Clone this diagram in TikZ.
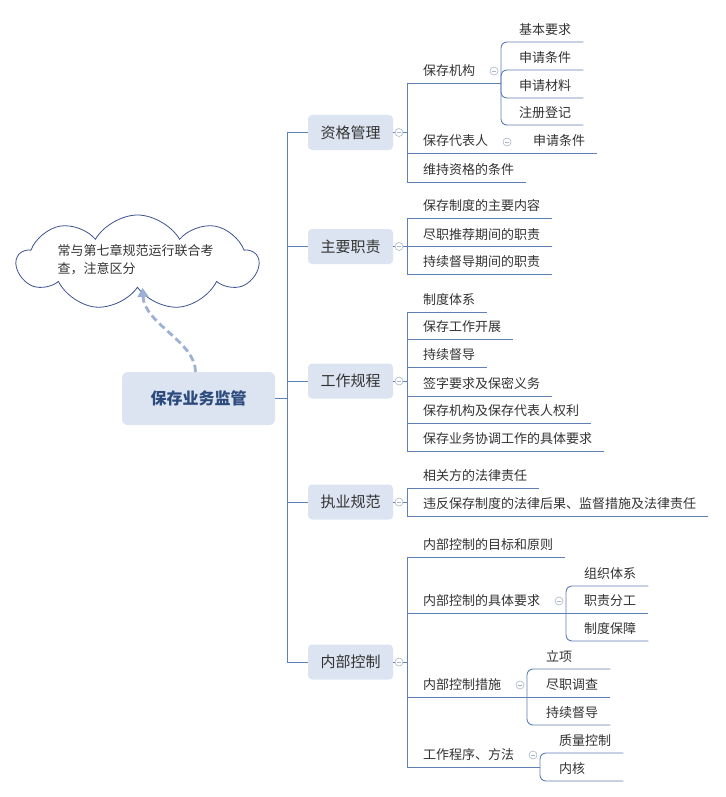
\documentclass[tikz,border=0pt]{standalone}
\usepackage{fontspec}
\setmainfont{Noto Sans CJK SC}
\usetikzlibrary{arrows.meta,calc,shapes.symbols}

\definecolor{linkblue}{RGB}{95,127,184}
\definecolor{topicfill}{RGB}{219,228,240}
\definecolor{roottext}{RGB}{44,74,124}
\definecolor{textgray}{RGB}{51,51,51}
\definecolor{foldgray}{RGB}{169,182,201}
\definecolor{arrowblue}{RGB}{156,177,211}
\definecolor{cloudline}{RGB}{62,83,144}

\tikzset{
  link/.style={draw=linkblue, line width=0.9pt},
  sublink/.style={link, rounded corners=6pt},
  topic/.style={fill=topicfill, rounded corners=4pt, minimum width=85pt, minimum height=35pt,
    inner sep=0pt, font=\fontsize{15}{18}\selectfont, text=textgray},
  leaf/.style={anchor=south west, inner xsep=0pt, inner ysep=5pt, text height=11pt, text depth=2pt,
    font=\fontsize{13}{15}\selectfont, text=textgray},
  subleaf/.style={leaf, text width=52pt, align=left},
  fold/.style={circle, draw=foldgray, fill=white, minimum size=8pt, inner sep=0pt, line width=0.6pt,
    path picture={\draw[foldgray, line width=0.6pt]
      ([xshift=-2.2pt]path picture bounding box.center) -- ([xshift=2.2pt]path picture bounding box.center);}},
  noteline/.style={draw=arrowblue, line width=2.8pt, dash pattern=on 7pt off 4pt,
    -{Triangle[length=9pt,width=11pt]}}
}

\begin{document}
\begin{tikzpicture}[x=1pt, y=-1pt]

\fill[white] (0,0) rectangle (725,797);
\useasboundingbox (0,0) rectangle (725,797);

% root and note
\node[topic, minimum width=153pt, minimum height=53pt, rounded corners=6pt,
  font=\fontsize{16}{19}\selectfont\bfseries, text=roottext] (root) at (198.5,398.5) {保存业务监管};
\node[cloud, cloud puffs=9, cloud puff arc=120, aspect=2.5, draw=cloudline, fill=white, line width=0.8pt,
  minimum width=241pt, minimum height=95pt, inner sep=0pt] (note) at (137.5,262.5) {};
\node[text width=160pt, align=left, inner sep=0pt, font=\fontsize{13}{18}\selectfont, text=textgray]
  (notetext) at (137.5,260) {常与第七章规范运行联合考\\查，注意区分};
\draw[noteline] ([xshift=-3pt]root.north) .. controls +(0,-30) and +(2,36) .. ([xshift=5pt]note.south);

% main topics
\node[topic] (c1) at (350.5,132.5) {资格管理};
\node[topic] (c2) at (350.5,246.5) {主要职责};
\node[topic] (c3) at (350.5,381) {工作规程};
\node[topic] (c4) at (350.5,502) {执业规范};
\node[topic] (c5) at (350.5,662) {内部控制};

\coordinate (j0) at (287,398.5);
\draw[link] (root.east) -- (j0);
\foreach \c in {c1,c2,c3,c4,c5}
  \draw[link] (j0) |- (\c.west);

\coordinate (j1) at (407,132.5);
\coordinate (j2) at (407,246.5);
\coordinate (j3) at (407,381);
\coordinate (j4) at (407,502);
\coordinate (j5) at (407,662);
\foreach \i in {1,...,5}
  \draw[link] (c\i.east) -- (j\i);

% 资格管理
\node[leaf] (a1) at (423,83) {保存机构};
\node[leaf] (a2) at (423,153) {保存代表人};
\node[leaf] (a3) at (423,182) {维持资格的条件};
\node[subleaf] (a11) at (519,42) {基本要求};
\node[subleaf] (a12) at (519,70) {申请条件};
\node[subleaf] (a13) at (519,98) {申请材料};
\node[subleaf] (a14) at (519,125) {注册登记};
\node[subleaf] (a21) at (533,153) {申请条件};
\coordinate (s1) at (501,83);
\draw[link] (j1) |- (s1);
\draw[link] (j1) |- ([xshift=12pt]a21.south east);
\draw[link] (j1) |- ([xshift=12pt]a3.south east);
\foreach \n in {a11,a12,a13,a14}
  \draw[sublink] (s1) |- ([xshift=12pt]\n.south east);

% 主要职责
\node[leaf] (b1) at (423,218) {保存制度的主要内容};
\node[leaf] (b2) at (423,246.5) {尽职推荐期间的职责};
\node[leaf] (b3) at (423,274) {持续督导期间的职责};
\foreach \n in {b1,b2,b3}
  \draw[link] (j2) |- ([xshift=12pt]\n.south east);

% 工作规程
\node[leaf] (g1) at (423,312) {制度体系};
\node[leaf] (g2) at (423,339) {保存工作开展};
\node[leaf] (g3) at (423,367) {持续督导};
\node[leaf] (g4) at (423,396) {签字要求及保密义务};
\node[leaf] (g5) at (423,423) {保存机构及保存代表人权利};
\node[leaf] (g6) at (423,451) {保存业务协调工作的具体要求};
\foreach \n in {g1,g2,g3,g4,g5,g6}
  \draw[link] (j3) |- ([xshift=12pt]\n.south east);

% 执业规范
\node[leaf] (e1) at (423,488) {相关方的法律责任};
\node[leaf] (e2) at (423,516) {违反保存制度的法律后果、监督措施及法律责任};
\foreach \n in {e1,e2}
  \draw[link] (j4) |- ([xshift=12pt]\n.south east);

% 内部控制
\node[leaf] (d1) at (423,557) {内部控制的目标和原则};
\node[leaf] (d2) at (423,613) {内部控制的具体要求};
\node[leaf] (d3) at (423,697) {内部控制措施};
\node[leaf] (d4) at (423,767) {工作程序、方法};
\node[subleaf] (d21) at (584,586) {组织体系};
\node[subleaf] (d22) at (584,613) {职责分工};
\node[subleaf] (d23) at (584,641) {制度保障};
\node[subleaf] (d31) at (546,669) {立项};
\node[subleaf] (d32) at (546,697) {尽职调查};
\node[subleaf] (d33) at (546,725) {持续督导};
\node[subleaf] (d41) at (559,753) {质量控制};
\node[subleaf] (d42) at (559,781) {内核};
\coordinate (s2) at (566,613);
\coordinate (s3) at (527,697);
\coordinate (s4) at (540,767);
\draw[link] (j5) |- ([xshift=12pt]d1.south east);
\draw[link] (j5) |- (s2);
\draw[link] (j5) |- (s3);
\draw[link] (j5) |- (s4);
\draw[link] (s2) -- ([xshift=12pt]d22.south east);
\draw[link] (s3) -- ([xshift=12pt]d32.south east);
\foreach \n in {d21,d23}
  \draw[sublink] (s2) |- ([xshift=12pt]\n.south east);
\foreach \n in {d31,d33}
  \draw[sublink] (s3) |- ([xshift=12pt]\n.south east);
\foreach \n in {d41,d42}
  \draw[sublink] (s4) |- ([xshift=12pt]\n.south east);

% fold marks
\node[fold] (f1) at (399,132.5) {};
\node[fold] (f2) at (399,246.5) {};
\node[fold] (f3) at (399,381) {};
\node[fold] (f4) at (399,502) {};
\node[fold] (f5) at (399,662) {};
\node[fold] (f6) at (494,71) {};
\node[fold] (f7) at (507,142) {};
\node[fold] (f8) at (559,601) {};
\node[fold] (f9) at (520,685) {};
\node[fold] (f10) at (533,755) {};

\end{tikzpicture}
\end{document}
